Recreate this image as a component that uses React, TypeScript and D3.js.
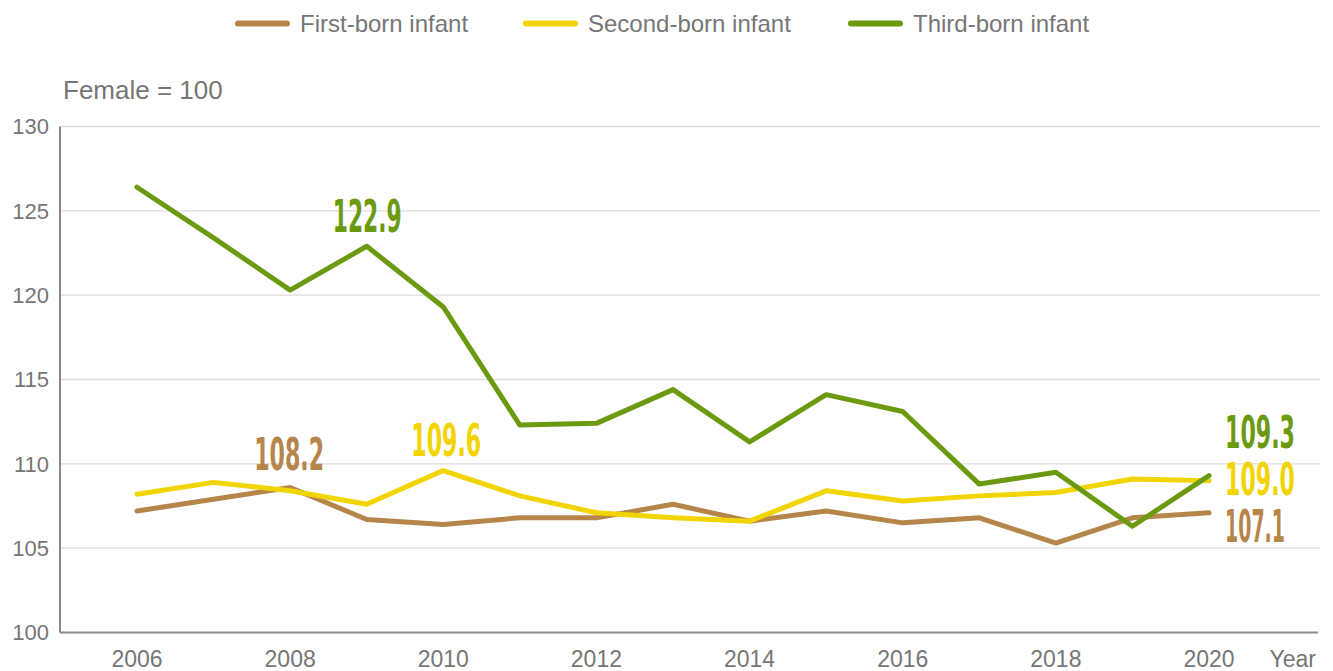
import React, { useLayoutEffect, useRef } from "react";
import * as d3 from "d3";

const years = [2006, 2007, 2008, 2009, 2010, 2011, 2012, 2013, 2014, 2015, 2016, 2017, 2018, 2019, 2020];
const firstBorn = [107.2, 107.9, 108.6, 106.7, 106.4, 106.8, 106.8, 107.6, 106.6, 107.2, 106.5, 106.8, 105.3, 106.8, 107.1];
const secondBorn = [108.2, 108.9, 108.4, 107.6, 109.6, 108.1, 107.1, 106.8, 106.6, 108.4, 107.8, 108.1, 108.3, 109.1, 109.0];
const thirdBorn = [126.4, 123.4, 120.3, 122.9, 119.3, 112.3, 112.4, 114.4, 111.3, 114.1, 113.1, 108.8, 109.5, 106.3, 109.3];
const yTicks = [100, 105, 110, 115, 120, 125, 130];
const xTicks = [2006, 2008, 2010, 2012, 2014, 2016, 2018, 2020];
const seriesNames = ["First-born infant", "Second-born infant", "Third-born infant"];
const colors = ["#b5854a", "#f2d400", "#6b9a10"];

// annotation labels: [series index, year, text]
const annotations: [number, number, string][] = [
  [2, 2009, "122.9"],
  [0, 2008, "108.2"],
  [1, 2010, "109.6"],
  [2, 2020, "109.3"],
  [1, 2020, "109.0"],
  [0, 2020, "107.1"],
];

export default function App() {
  const W = 1333, H = 671;
  const left = 60, right = 1320, top = 126.5, bottom = 632.5;
  const x = d3.scaleLinear().domain([2006, 2020]).range([137, 1209]);
  const y = d3.scaleLinear().domain([100, 130]).range([bottom, top]);
  const series = [firstBorn, secondBorn, thirdBorn];
  const line = d3
    .line<number>()
    .x((_, i) => x(years[i]))
    .y((d) => y(d));
  const textColor = "#767676";
  const font = "'Liberation Sans', Arial, sans-serif";
  const labelFont = "'Liberation Sans Narrow', 'DejaVu Sans Condensed', sans-serif";

  const legendX = [235, 523, 848];

  // annotation placement: left edge offset from point x, baseline y, target width
  const annPos: Record<string, { dx: number; y: number; w: number }> = {
    "122.9": { dx: -34, y: 232, w: 69 },
    "108.2": { dx: -36, y: 470, w: 70 },
    "109.6": { dx: -32, y: 456, w: 70 },
    "109.3": { dx: 16, y: 448, w: 70 },
    "109.0": { dx: 16, y: 495, w: 70 },
    "107.1": { dx: 16, y: 542, w: 60 },
  };

  const refs = useRef<(SVGTextElement | null)[]>([]);
  useLayoutEffect(() => {
    annotations.forEach(([, yr, txt], i) => {
      const el = refs.current[i];
      if (!el) return;
      const p = annPos[txt];
      const w = el.getComputedTextLength() || p.w;
      const s = p.w / w;
      el.setAttribute("transform", `translate(${x(yr) + p.dx},${p.y}) scale(${s},1)`);
    });
  }, []);

  return (
    <svg width={W} height={H} style={{ position: "absolute", left: 0, top: 0, background: "#fff" }}>
      {/* gridlines */}
      {yTicks.slice(1).map((t) => (
        <line key={t} x1={left} x2={right} y1={y(t)} y2={y(t)} stroke="#dcdcdc" strokeWidth={1.3} />
      ))}
      {/* axes */}
      <line x1={left} x2={left} y1={top} y2={bottom} stroke="#8a8a8a" strokeWidth={2} />
      <line x1={left} x2={1318} y1={bottom} y2={bottom} stroke="#8a8a8a" strokeWidth={2} />
      {/* y tick labels */}
      {yTicks.map((t) => (
        <text key={t} x={49} y={y(t)} dy="0.36em" textAnchor="end" fontFamily={font} fontSize={22} fill={textColor}>
          {t}
        </text>
      ))}
      {/* x tick labels */}
      {xTicks.map((t) => (
        <text key={t} x={x(t)} y={667} textAnchor="middle" fontFamily={font} fontSize={23} fill={textColor}>
          {t}
        </text>
      ))}
      <text x={1316} y={667} textAnchor="end" fontFamily={font} fontSize={23} fill={textColor}>
        Year
      </text>
      <text x={63} y={98.5} fontFamily={font} fontSize={26} fill={textColor}>
        Female = 100
      </text>
      {/* legend */}
      {seriesNames.map((n, i) => (
        <g key={n}>
          <line x1={legendX[i] + 3} x2={legendX[i] + 52} y1={23.5} y2={23.5} stroke={colors[i]} strokeWidth={6} strokeLinecap="round" />
          <text x={legendX[i] + 65} y={31.5} fontFamily={font} fontSize={24} fill={textColor}>
            {n}
          </text>
        </g>
      ))}
      {/* lines */}
      {series.map((s, i) => (
        <path key={i} d={line(s) || ""} fill="none" stroke={colors[i]} strokeWidth={5} strokeLinejoin="round" strokeLinecap="round" />
      ))}
      {/* annotations */}
      {annotations.map(([si, yr, txt], i) => {
        const p = annPos[txt];
        return (
          <text
            key={txt}
            ref={(el) => {
              refs.current[i] = el;
            }}
            transform={`translate(${x(yr) + p.dx},${p.y})`}
            x={0}
            y={0}
            fontFamily={labelFont}
            fontWeight="bold"
            fontSize={44}
            fill={colors[si]}
          >
            {txt}
          </text>
        );
      })}
    </svg>
  );
}
